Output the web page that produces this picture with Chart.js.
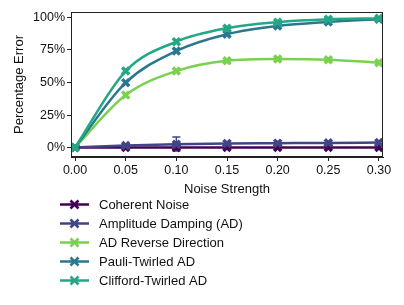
<!DOCTYPE html>
<html>
<head>
<meta charset="utf-8">
<script src="https://cdn.jsdelivr.net/npm/chart.js@4/dist/chart.umd.min.js"></script>
<style>
  html, body { margin: 0; padding: 0; background: #fff; }
  #wrap { width: 404px; height: 305px; position: relative; }
</style>
</head>
<body>
<div id="wrap"><canvas id="errChart" width="404" height="305"></canvas></div>
<script>
const noise = [0.00, 0.05, 0.10, 0.15, 0.20, 0.25, 0.30];
const labels = ["Coherent Noise", "Amplitude Damping (AD)", "AD Reverse Direction", "Pauli-Twirled AD", "Clifford-Twirled AD"];
const coherent = [0.3, 0.3, 0.3, 0.3, 0.3, 0.3, 0.3];
const ampDamp = [0.3, 1.8, 2.8, 3.4, 3.6, 3.8, 4.1];
const adReverse = [0.3, 40.4, 58.8, 66.7, 68.0, 67.5, 65.2];
const pauliAD = [0.3, 49.9, 74.2, 87.0, 93.3, 96.4, 98.5];
const cliffordAD = [0.3, 58.8, 81.3, 91.6, 96.2, 98.4, 99.2];
const colors = ["#440154", "#414487", "#7ad151", "#2a788e", "#22a884"];
const yTicks = [0, 25, 50, 75, 100];
const xTicks = [0.00, 0.05, 0.10, 0.15, 0.20, 0.25, 0.30];
// error bar on amplitude damping at 0.10
const errX = 0.10;
const errLow = -2.5;
const errHigh = 8.4;

const series = [coherent, ampDamp, adReverse, pauliAD, cliffordAD];
const FONT = "'Liberation Sans', Arial, sans-serif";

const datasets = series.map((vals, i) => ({
  label: labels[i],
  data: vals.map((v, j) => ({ x: noise[j], y: v })),
  borderColor: colors[i],
  backgroundColor: colors[i],
  borderWidth: 2.5,
  pointStyle: 'crossRot',
  pointRadius: 5,
  pointBorderWidth: 3.5,
  cubicInterpolationMode: 'monotone',
  order: 5 - i
}));

const frameAndLegend = {
  id: 'frameAndLegend',
  beforeDatasetsDraw(chart) {
    const ctx = chart.ctx;
    const xs = chart.scales.x, ys = chart.scales.y;
    const px = xs.getPixelForValue(errX);
    const top = ys.getPixelForValue(errHigh), bot = ys.getPixelForValue(errLow);
    ctx.save();
    ctx.strokeStyle = colors[1];
    ctx.lineWidth = 1.5;
    ctx.beginPath();
    ctx.moveTo(px, top); ctx.lineTo(px, bot);
    ctx.moveTo(px - 4, top); ctx.lineTo(px + 4, top);
    ctx.moveTo(px - 4, bot); ctx.lineTo(px + 4, bot);
    ctx.stroke();
    ctx.restore();
  },
  afterDraw(chart) {
    const ctx = chart.ctx;
    const a = chart.chartArea;
    ctx.save();
    ctx.strokeStyle = "#222";
    ctx.lineWidth = 1;
    ctx.strokeRect(a.left + 0.5, a.top + 0.5, a.right - a.left - 1, a.bottom - a.top - 1);
    // legend
    ctx.font = "13px " + FONT;
    ctx.textBaseline = "middle";
    chart.data.datasets.forEach((ds, i) => {
      const y = 204.5 + i * 19;
      ctx.strokeStyle = ds.borderColor;
      ctx.lineWidth = 2.5;
      ctx.beginPath();
      ctx.moveTo(60, y); ctx.lineTo(89, y);
      const cx = 74.5, r = 4;
      ctx.moveTo(cx - r, y - r); ctx.lineTo(cx + r, y + r);
      ctx.moveTo(cx - r, y + r); ctx.lineTo(cx + r, y - r);
      ctx.stroke();
      ctx.fillStyle = "#111";
      ctx.fillText(ds.label, 99, y + 0.5);
    });
    ctx.restore();
  }
};

new Chart(document.getElementById("errChart"), {
  type: 'line',
  data: { datasets },
  options: {
    responsive: false,
    animation: false,
    layout: { padding: { top: 12, right: 21, bottom: 108, left: 10 } },
    plugins: { legend: { display: false }, tooltip: { enabled: false } },
    scales: {
      x: {
        type: 'linear',
        min: -0.004,
        max: 0.304,
        afterBuildTicks: s => { s.ticks = xTicks.map(v => ({ value: v })); },
        afterFit: s => { s.height = 40; },
        ticks: { color: "#111", font: { family: FONT, size: 12.5 }, padding: 2, maxRotation: 0,
                 callback: v => v.toFixed(2) },
        grid: { drawOnChartArea: false, drawTicks: true, tickLength: 4, color: "#222" },
        border: { color: "#222" },
        title: { display: true, text: "Noise Strength", color: "#111",
                 font: { family: FONT, size: 13 }, padding: { top: 2, bottom: 0 } }
      },
      y: {
        min: -7,
        max: 104,
        afterBuildTicks: s => { s.ticks = yTicks.map(v => ({ value: v })); },
        afterFit: s => { s.width = 61; },
        ticks: { color: "#111", font: { family: FONT, size: 12.5 }, padding: 2,
                 callback: v => v + "%" },
        grid: { drawOnChartArea: false, drawTicks: true, tickLength: 4, color: "#222" },
        border: { color: "#222" },
        title: { display: true, text: "Percentage Error", color: "#111",
                 font: { family: FONT, size: 13 }, padding: { top: 2, bottom: 2 } }
      }
    }
  },
  plugins: [frameAndLegend]
});
</script>
</body>
</html>
